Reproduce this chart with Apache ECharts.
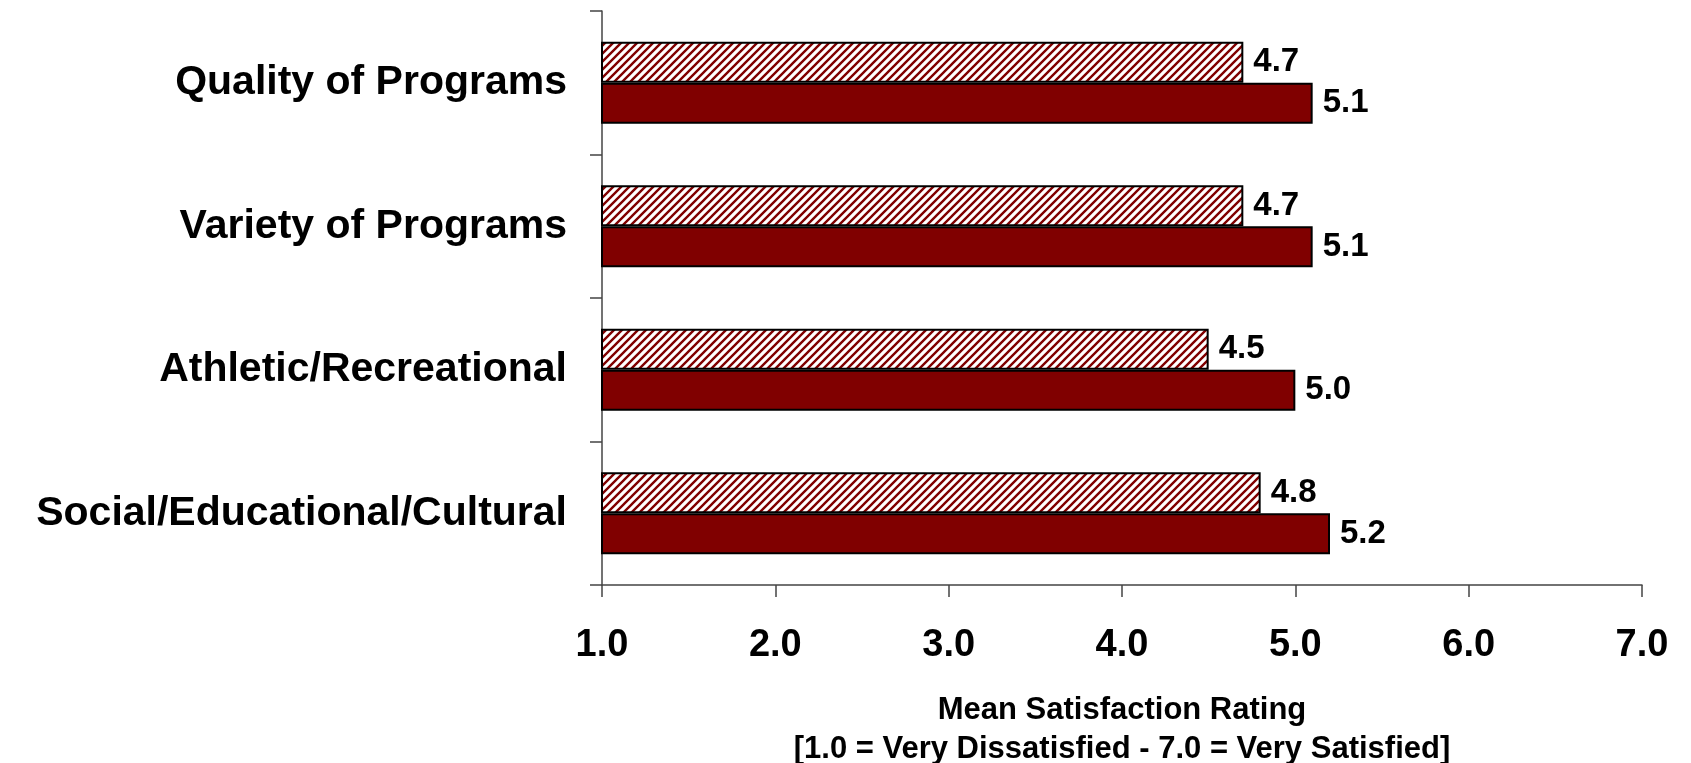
<!DOCTYPE html>
<html>
<head>
<meta charset="utf-8">
<script src="https://cdn.jsdelivr.net/npm/echarts@6/dist/echarts.min.js"></script>
<style>
html,body{margin:0;padding:0;background:#fff;}
#chart{width:1691px;height:763px;}
</style>
</head>
<body>
<div id="chart"></div>
<script>
const categories = ['Quality of Programs', 'Variety of Programs', 'Athletic/Recreational', 'Social/Educational/Cultural'];
const hatchedValues = [4.7, 4.7, 4.5, 4.8];
const solidValues = [5.1, 5.1, 5.0, 5.2];
const xTickMin = 1.0;
const xTickMax = 7.0;
const xTickStep = 1.0;
const axisTitle = 'Mean Satisfaction Rating\n[1.0 = Very Dissatisfied - 7.0 = Very Satisfied]';

const MAROON = '#800000';
function makeHatch() {
  const c = document.createElement('canvas');
  const s = 8;
  c.width = s; c.height = s;
  const ctx = c.getContext('2d');
  ctx.fillStyle = '#ffffff';
  ctx.fillRect(0, 0, s, s);
  ctx.strokeStyle = MAROON;
  ctx.lineWidth = 2.4;
  ctx.beginPath();
  ctx.moveTo(-2, s + 2); ctx.lineTo(s + 2, -2);
  ctx.moveTo(-2 - s, s + 2); ctx.lineTo(2, -2);
  ctx.moveTo(s - 2, s + 2); ctx.lineTo(2 * s + 2, -2);
  ctx.stroke();
  return c;
}

const FONT = '"Liberation Sans", Arial, Helvetica, sans-serif';
const chart = echarts.init(document.getElementById('chart'), null, {renderer: 'canvas'});
const labelStyle = {
  show: true, position: 'right', distance: 10,
  fontFamily: FONT, fontWeight: 'bold', fontSize: 33, color: '#000',
  formatter: p => p.value.toFixed(1)
};
chart.setOption({
  animation: false,
  backgroundColor: '#ffffff',
  grid: {left: 602, right: 49, top: 11, bottom: 178, containLabel: false, outerBoundsMode: 'none'},
  xAxis: {
    type: 'value', min: xTickMin, max: xTickMax, interval: xTickStep,
    axisLine: {show: true, lineStyle: {color: '#444', width: 1.5}},
    axisTick: {show: true, length: 12, lineStyle: {color: '#444', width: 1.5}},
    splitLine: {show: false},
    axisLabel: {margin: 42, fontFamily: FONT, fontWeight: 'bold', fontSize: 38, color: '#000',
      formatter: v => v.toFixed(1)},
    name: axisTitle, nameLocation: 'middle', nameGap: 106,
    nameTextStyle: {fontFamily: FONT, fontWeight: 'bold', fontSize: 31, color: '#000', lineHeight: 39}
  },
  yAxis: {
    type: 'category', data: categories, inverse: true,
    axisLine: {show: true, lineStyle: {color: '#444', width: 1.5}},
    axisTick: {show: true, length: 12, lineStyle: {color: '#444', width: 1.5}},
    axisLabel: {margin: 35, fontFamily: FONT, fontWeight: 'bold', fontSize: 41, color: '#000'}
  },
  series: [
    {
      type: 'bar', name: 'hatched', data: hatchedValues, barWidth: 41, barGap: '0%',
      itemStyle: {color: {image: makeHatch(), repeat: 'repeat'}, borderColor: '#000', borderWidth: 2},
      label: labelStyle
    },
    {
      type: 'bar', name: 'solid', data: solidValues, barWidth: 41, barGap: '0%',
      itemStyle: {color: MAROON, borderColor: '#000', borderWidth: 2},
      label: labelStyle
    }
  ]
});
</script>
</body>
</html>
